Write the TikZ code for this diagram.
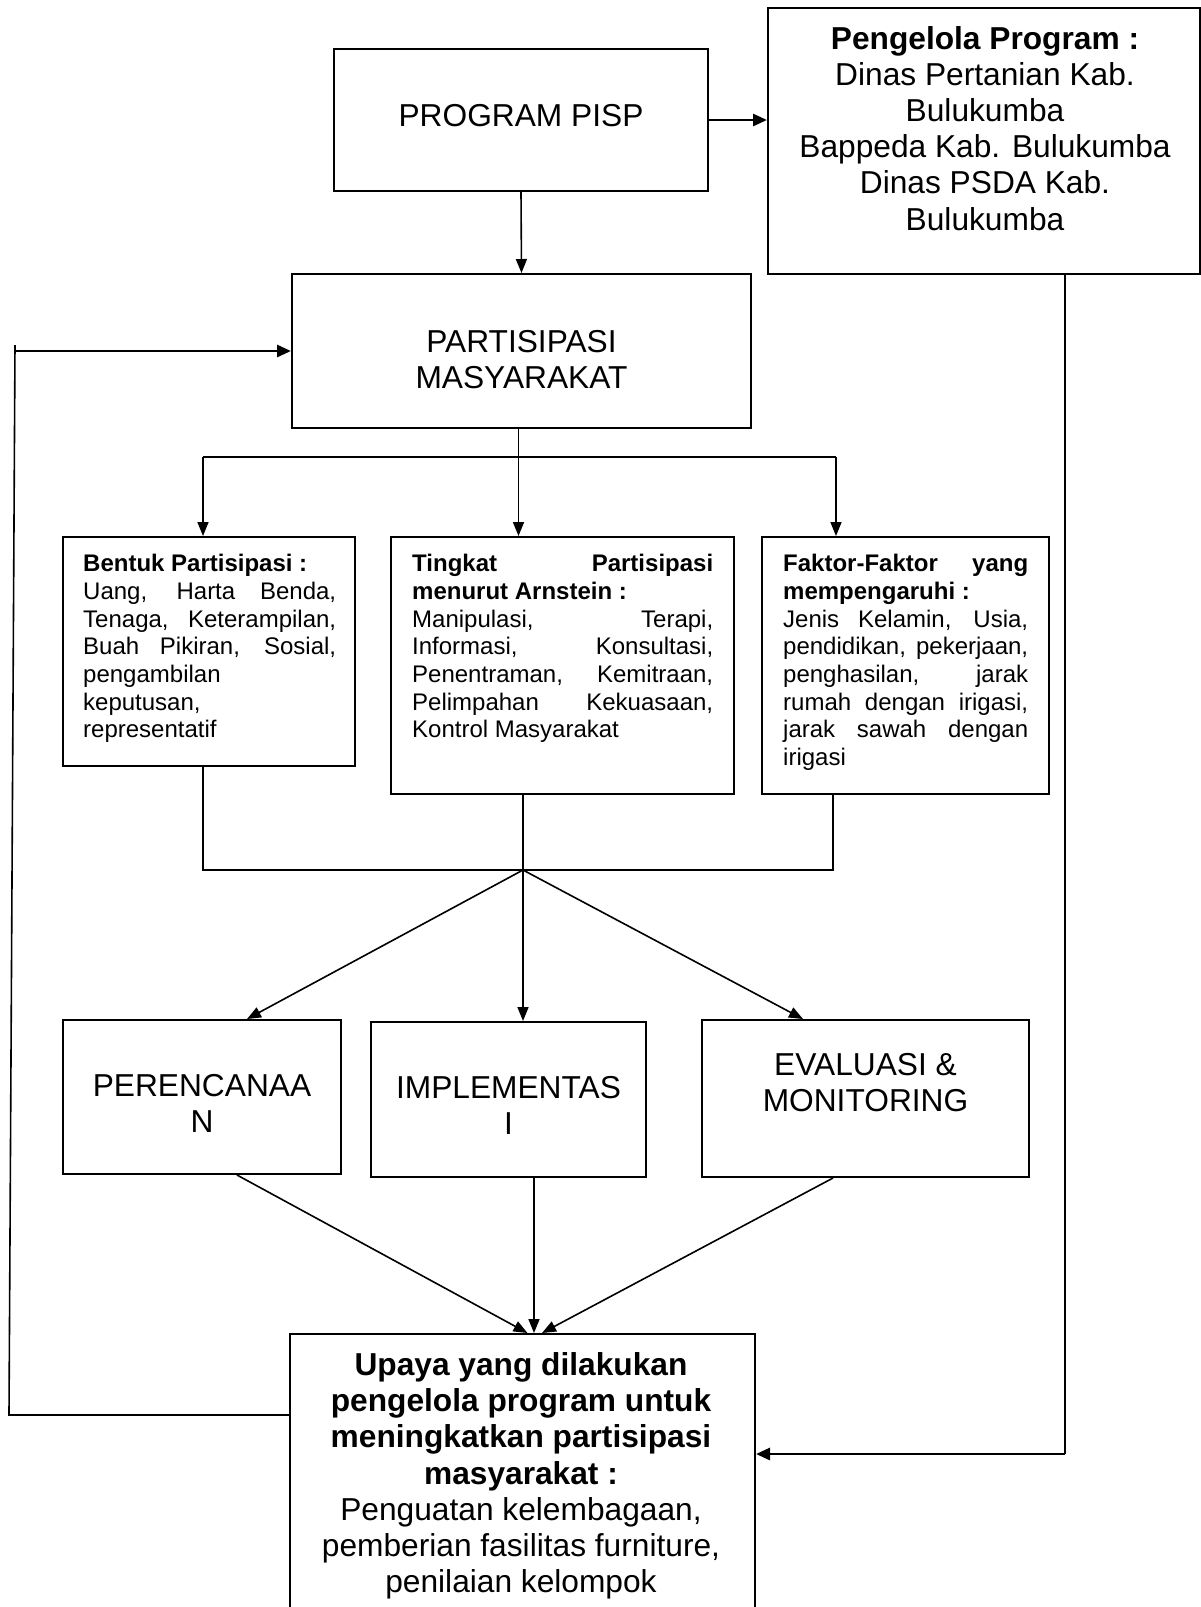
\documentclass[tikz,border=0pt]{standalone}
\usepackage{fontspec}
\setmainfont{Liberation Sans}
\usetikzlibrary{arrows.meta,calc}
\newcommand{\jl}[2]{\makebox[#1][s]{#2}}
\begin{document}
\begin{tikzpicture}[x=1pt,y=-1pt,
  box/.style={draw,line width=2pt,inner sep=0pt,rectangle},
  big/.style={inner sep=0pt,align=center,font=\fontsize{31.7}{36.2}\selectfont},
  small/.style={inner sep=0pt,align=left,anchor=north west,font=\fontsize{24}{27.7}\selectfont},
  conn/.style={line width=1.6pt},
  arr/.style={conn,-{Triangle[length=14pt,width=11pt]}},
  thick arr/.style={line width=2.8pt,-{Triangle[length=14pt,width=12pt]}},
]
\useasboundingbox (0,0) rectangle (1201,1607);
\fill[white] (0,0) rectangle (1201,1607);

% boxes
\node[box,minimum width=374pt,minimum height=142pt] (pisp) at (521,120) {};
\node[box,minimum width=432pt,minimum height=266pt] (peng) at (984,141) {};
\node[box,minimum width=459pt,minimum height=154pt] (part) at (521.5,351) {};
\node[box,minimum width=292pt,minimum height=229pt] (bentuk) at (209,651.5) {};
\node[box,minimum width=343pt,minimum height=257pt] (tingkat) at (562.5,665.5) {};
\node[box,minimum width=287pt,minimum height=257pt] (faktor) at (905.5,665.5) {};
\node[box,minimum width=278pt,minimum height=154pt] (peren) at (202,1097) {};
\node[box,minimum width=275pt,minimum height=155pt] (impl) at (508.5,1099.5) {};
\node[box,minimum width=327pt,minimum height=157pt] (eval) at (865.5,1098.5) {};
\node[box,minimum width=465pt,minimum height=306pt] (upaya) at (522.5,1487) {};

% texts
\node[big,anchor=base] (tpisp) at (521,126) {PROGRAM PISP};
\node[big,anchor=north] (tpeng) at (985,26) {\textbf{Pengelola Program :}\\ Dinas Pertanian Kab.\\ Bulukumba\\ Bappeda Kab. Bulukumba\\ Dinas PSDA Kab.\\ Bulukumba};
\node[big,anchor=north] (tpart) at (521.5,330) {PARTISIPASI\\ MASYARAKAT};
\node[big,anchor=north] (tper) at (202,1074.3) {PERENCANAA\\ N};
\node[big,anchor=north] (timp) at (508.5,1076.3) {IMPLEMENTAS\\ I};
\node[big,anchor=north] (teva) at (865.5,1053) {EVALUASI \&\\ MONITORING};
\node[big,anchor=north] (tupa) at (521,1352.3) {\textbf{Upaya yang dilakukan}\\ \textbf{pengelola program untuk}\\ \textbf{meningkatkan partisipasi}\\ \textbf{masyarakat :}\\ Penguatan kelembagaan,\\ pemberian fasilitas furniture,\\ penilaian kelompok};

\node[small] (tbentuk) at (83,554) {\textbf{Bentuk Partisipasi :}\\ \jl{253pt}{Uang, Harta Benda,}\\ \jl{253pt}{Tenaga, Keterampilan,}\\ \jl{253pt}{Buah Pikiran, Sosial,}\\ pengambilan\\ keputusan,\\ representatif};
\node[small] (ttingkat) at (412,554) {\jl{301pt}{\bfseries Tingkat Partisipasi}\\ \textbf{menurut Arnstein :}\\ \jl{301pt}{Manipulasi, Terapi,}\\ \jl{301pt}{Informasi, Konsultasi,}\\ \jl{301pt}{Penentraman, Kemitraan,}\\ \jl{301pt}{Pelimpahan Kekuasaan,}\\ Kontrol Masyarakat};
\node[small] (tfaktor) at (783,554) {\jl{245pt}{\bfseries Faktor-Faktor yang}\\ \textbf{mempengaruhi :}\\ \jl{245pt}{Jenis Kelamin, Usia,}\\ \jl{245pt}{pendidikan, pekerjaan,}\\ \jl{245pt}{penghasilan, jarak}\\ \jl{245pt}{rumah dengan irigasi,}\\ \jl{245pt}{jarak sawah dengan}\\ irigasi};

% connectors top
\draw[arr] (pisp.south) -- (part.north);
\draw[thick arr] (pisp.east) -- (pisp.east -| peng.west);

% branch
\coordinate (br) at (518.5,457);
\coordinate (bl) at (203,457);
\coordinate (bR) at (836,457);
\draw[conn] (part.south -| br) -- (br);
\draw[conn] (bl) -- (bR);
\draw[arr] (bl) -- (bl |- bentuk.north);
\draw[arr] (br) -- (br |- tingkat.north);
\draw[arr] (bR) -- (bR |- faktor.north);

% collector
\coordinate (cl) at (203,870);
\coordinate (cm) at (523,870);
\coordinate (cr) at (833,870);
\draw[conn] (bentuk.south -| cl) -- (cl) -- (cr) -- (cr |- faktor.south);
\draw[conn] (tingkat.south -| cm) -- (cm);
\draw[arr] (cm) -- ($(peren.north)+(45,0)$);
\draw[arr] (cm) -- ($(impl.north)+(14.5,0)$);
\draw[arr] (cm) -- ($(eval.north)+(-62.5,0)$);
\draw[arr] ($(peren.south)+(35,0)$) -- ($(upaya.north)+(5,0)$);
\draw[arr] ($(impl.south)+(25.5,0)$) -- ($(upaya.north)+(11.5,0)$);
\draw[arr] ($(eval.south)+(-32.5,0)$) -- ($(upaya.north)+(19.5,0)$);

% feedback left
\coordinate (fbB) at (9,1415);
\coordinate (fbT) at (15,345);
\coordinate (fbA) at (15,351);
\draw[conn] ($(upaya.west)+(0,-72)$) -- (fbB) -- (fbT);
\draw[thick arr] (fbA) -- (part.west);

% right line
\coordinate (rc) at (1065,1454);
\draw[conn] ($(peng.south)+(81,0)$) -- (rc);
\draw[thick arr] (rc) -- (rc -| upaya.east);
\end{tikzpicture}
\end{document}
